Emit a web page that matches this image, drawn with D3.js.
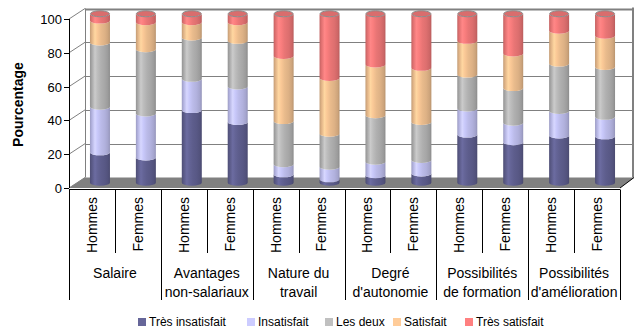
<!DOCTYPE html>
<html>
<head>
<meta charset="utf-8">
<script src="https://cdn.jsdelivr.net/npm/d3@7"></script>
<style>
  body { margin: 0; background: #fff; }
  svg { display: block; }
  text { font-family: "Liberation Sans", Arial, Helvetica, sans-serif; fill: #000; }
</style>
</head>
<body>
<svg id="chart" width="636" height="331"></svg>
<script>
// Satisfaction par aspect de l'emploi, selon le sexe (en %)
const groups = [
  ["Salaire"],
  ["Avantages", "non-salariaux"],
  ["Nature du", "travail"],
  ["Degré", "d'autonomie"],
  ["Possibilités", "de formation"],
  ["Possibilités", "d'amélioration"]
];
const sexes = ["Hommes", "Femmes"];
const seriesNames = ["Très insatisfait", "Insatisfait", "Les deux", "Satisfait", "Très satisfait"];
const seriesColors = ["#666699", "#CCCCFF", "#C0C0C0", "#FFCC99", "#FF8080"];

// one value per bar: Salaire H, Salaire F, Avantages H, Avantages F, ...
const tresInsatisfait = [18, 15, 43, 36, 5, 2, 4.5, 5.5, 28.5, 24, 28, 27.5];
const insatisfait     = [27, 26, 18.5, 21, 6, 7.5, 8, 8, 15.5, 11.5, 14.5, 11.5];
const lesDeux         = [38, 38, 24.5, 27, 25.5, 19.5, 27.5, 22.5, 20, 20.5, 28, 29.5];
const satisfait       = [13, 16, 9, 11, 38.5, 33, 30, 32, 20, 20.5, 19.5, 18.5];
const tresSatisfait   = [4, 5, 5, 5, 25, 38, 30, 32, 16, 23.5, 10, 13];
const yTicks = [0, 20, 40, 60, 80, 100];

const seriesValues = [tresInsatisfait, insatisfait, lesDeux, satisfait, tresSatisfait];

const svg = d3.select("#chart");
const defs = svg.append("defs");

// plot geometry: front plane, and a depth offset towards the back wall
const x0 = 69, x1 = 620;
const depth = { dx: 16, dy: -10.5 };
const yFront = d3.scaleLinear().domain([0, 100]).range([188, 19]);
const yBack  = v => yFront(v) + depth.dy;
const yMid   = v => yFront(v) + depth.dy / 2;

const bars = [];
groups.forEach((g, gi) => sexes.forEach((s, si) => bars.push({ key: gi + "-" + si, group: gi, sex: s })));

const xBand = d3.scaleBand().domain(bars.map(b => b.key)).range([x0, x1]).padding(0);
const xGroup = d3.scaleBand().domain(groups.map((g, i) => i)).range([x0, x1]).padding(0);

// cylinder shading gradients
seriesColors.forEach((c, i) => {
  const base = d3.color(c);
  const gr = defs.append("linearGradient").attr("id", "cyl" + i)
    .attr("x1", 0).attr("x2", 1).attr("y1", 0).attr("y2", 0);
  const stops = [
    [0, base.darker(0.75)],
    [0.1, base.darker(0.35)],
    [0.25, base.brighter(0.15)],
    [0.38, base.darker(0.05)],
    [0.55, base.darker(0.25)],
    [0.75, base.darker(0.4)],
    [0.9, base.darker(0.6)],
    [1, base.darker(0.9)]
  ];
  stops.forEach(([o, col]) => gr.append("stop").attr("offset", o).attr("stop-color", col.formatHex()));
});

// ---- walls and floor ----
const walls = svg.append("g");
const bx0 = x0 + depth.dx, bx1 = 634;

walls.append("polygon")
  .attr("points", [[x0, yFront(0)], [x1, yFront(0)], [bx1, yBack(0)], [bx0, yBack(0)]].map(p => p.join(",")).join(" "))
  .attr("fill", "#808080");

yTicks.forEach(v => {
  // side wall line
  walls.append("line")
    .attr("x1", x0).attr("y1", yFront(v)).attr("x2", bx0).attr("y2", yBack(v))
    .attr("stroke", "#808080").attr("stroke-width", 1);
  // back wall gridline
  if (v > 0) {
    walls.append("line")
      .attr("x1", bx0).attr("y1", Math.round(yBack(v)) + 0.5).attr("x2", bx1).attr("y2", Math.round(yBack(v)) + 0.5)
      .attr("stroke", "#808080").attr("stroke-width", v === 100 ? 2 : 1);
  }
});
walls.append("line")
  .attr("x1", bx0 + 0.5).attr("x2", bx0 + 0.5).attr("y1", yBack(100)).attr("y2", yBack(0))
  .attr("stroke", "#808080");
walls.append("line")
  .attr("x1", bx1 - 1).attr("x2", bx1 - 1).attr("y1", yBack(100) - 1).attr("y2", yBack(0))
  .attr("stroke", "#808080").attr("stroke-width", 2);
walls.append("line")
  .attr("x1", x1).attr("y1", yFront(0)).attr("x2", bx1).attr("y2", yBack(0))
  .attr("stroke", "#000");

// ---- cylinders ----
const rx = 10, ry = 3;
const cyl = svg.append("g");
bars.forEach((b, bi) => {
  const cx = xBand(b.key) + xBand.bandwidth() / 2 + depth.dx / 2;
  let cum = 0;
  const segs = seriesValues.map((arr, si) => {
    const s = { si, v0: cum, v1: cum + arr[bi] };
    cum += arr[bi];
    return s;
  });
  segs.forEach(s => {
    const yb = yMid(s.v0), yt = yMid(s.v1);
    // front arc of the upper rim, down the right side, front arc of the lower rim
    const d = `M${cx - rx},${yt} A${rx},${ry} 0 0 0 ${cx + rx},${yt} L${cx + rx},${yb} A${rx},${ry} 0 0 1 ${cx - rx},${yb} Z`;
    cyl.append("path").attr("d", d).attr("fill", `url(#cyl${s.si})`);
  });
  // top cap
  const top = segs[segs.length - 1];
  const topColor = d3.color(seriesColors[top.si]);
  cyl.append("ellipse")
    .attr("cx", cx).attr("cy", yMid(top.v1)).attr("rx", rx - 0.5).attr("ry", ry)
    .attr("fill", topColor.darker(0.45).formatHex())
    .attr("stroke", "#8a8a8a").attr("stroke-width", 1);
});

// ---- value axis ----
const yAxis = svg.append("g");
yAxis.append("line")
  .attr("x1", x0 + 0.5).attr("x2", x0 + 0.5).attr("y1", yFront(100)).attr("y2", yFront(0))
  .attr("stroke", "#000");
yTicks.forEach(v => {
  const y = Math.round(yFront(v)) + 0.5;
  yAxis.append("line").attr("x1", x0 - 5).attr("x2", x0).attr("y1", y).attr("y2", y).attr("stroke", "#000");
  yAxis.append("text").attr("x", x0 - 7).attr("y", y).attr("dy", "0.35em")
    .attr("text-anchor", "end").attr("font-size", 13).text(v);
});
svg.append("text")
  .attr("transform", `translate(23,${(yFront(0) + yFront(100)) / 2 + 1}) rotate(-90)`)
  .attr("text-anchor", "middle").attr("font-size", 14).attr("font-weight", "bold")
  .text("Pourcentage");

// ---- category axis ----
const xAxis = svg.append("g");
const yBase = 189.5;
xAxis.append("line").attr("x1", x0).attr("x2", x1).attr("y1", yBase).attr("y2", yBase).attr("stroke", "#000");
d3.range(bars.length + 1).forEach(k => {
  const x = Math.round(x0 + k * xBand.bandwidth()) + 0.5;
  xAxis.append("line").attr("x1", x).attr("x2", x).attr("y1", yBase)
    .attr("y2", k % 2 === 0 ? 300 : 253).attr("stroke", "#000");
});
bars.forEach(b => {
  const cx = xBand(b.key) + xBand.bandwidth() / 2;
  xAxis.append("text")
    .attr("transform", `translate(${cx},197) rotate(-90)`)
    .attr("text-anchor", "end").attr("dy", "0.35em").attr("font-size", 14)
    .text(b.sex);
});
groups.forEach((lines, gi) => {
  const cx = xGroup(gi) + xGroup.bandwidth() / 2;
  lines.forEach((t, li) => {
    xAxis.append("text")
      .attr("x", cx).attr("y", 273 + li * 19).attr("dy", "0.35em")
      .attr("text-anchor", "middle").attr("font-size", 14).text(t);
  });
});

// ---- legend ----
const legendX = [138, 247, 325, 393, 465];
const legend = svg.append("g");
seriesNames.forEach((n, i) => {
  legend.append("rect").attr("x", legendX[i]).attr("y", 318).attr("width", 8).attr("height", 8)
    .attr("fill", seriesColors[i]);
  legend.append("text").attr("x", legendX[i] + 11).attr("y", 322).attr("dy", "0.35em")
    .attr("font-size", 12).text(n);
});
</script>
</body>
</html>
